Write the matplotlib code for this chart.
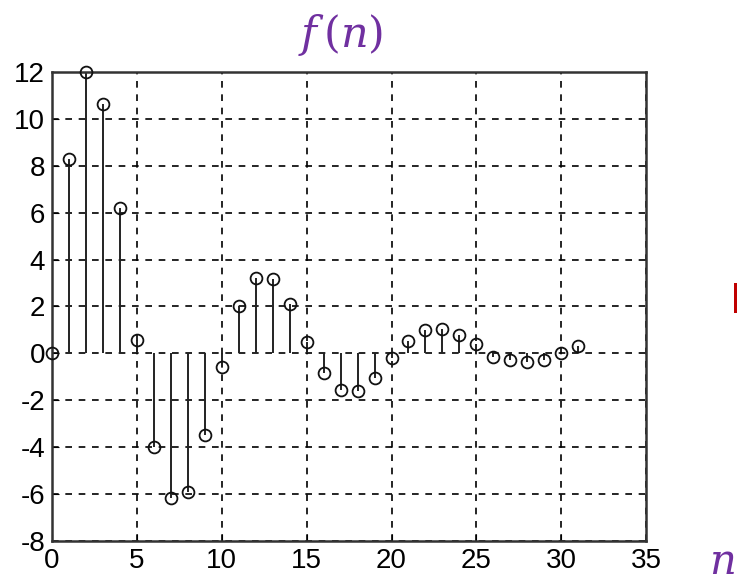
import numpy as np
import matplotlib.pyplot as plt
from matplotlib.patches import Rectangle

plt.rcParams['axes.unicode_minus'] = False

# sample index and values
n = list(range(32))
f_n = [0.0, 8.3, 12.0, 10.65, 6.2, 0.55, -4.0, -6.15, -5.9, -3.5,
       -0.6, 2.0, 3.2, 3.15, 2.1, 0.5, -0.85, -1.55, -1.6, -1.05,
       -0.18, 0.52, 1.0, 1.05, 0.8, 0.38, -0.15, -0.3, -0.37, -0.27,
       0.0, 0.3]

x_ticks = [0, 5, 10, 15, 20, 25, 30, 35]
y_ticks = [-8, -6, -4, -2, 0, 2, 4, 6, 8, 10, 12]

purple = '#7030A0'

fig = plt.figure(figsize=(7.38, 5.82), dpi=100)
ax = fig.add_axes([0.0705, 0.0705, 0.805, 0.806])

markerline, stemlines, baseline = ax.stem(n, f_n, linefmt='k-', markerfmt='o', basefmt=' ')
markerline.set_markerfacecolor('none')
markerline.set_markeredgecolor('#111111')
markerline.set_markersize(8.5)
markerline.set_markeredgewidth(1.3)
markerline.set_clip_on(False)
markerline.set_zorder(4)
stemlines.set_linewidth(1.4)
stemlines.set_color('#222222')

ax.set_xlim(0, 35)
ax.set_ylim(-8, 12)
ax.set_xticks(x_ticks)
ax.set_yticks(y_ticks)
ax.grid(True, linestyle=(0, (4, 4)), color='black', linewidth=1.2)
ax.set_axisbelow(True)
ax.tick_params(direction='in', labelsize=20, length=5, pad=5)
for lab in ax.get_xticklabels() + ax.get_yticklabels():
    lab.set_fontfamily('Liberation Sans')
for s in ax.spines.values():
    s.set_linewidth(1.8)
    s.set_color('#333333')

fig.text(0.462, 0.94, '$f\\,(n)$', color=purple, fontsize=31,
         ha='center', va='center', math_fontfamily='dejavuserif')
fig.text(0.978, 0.035, '$n$', color=purple, fontsize=30,
         ha='center', va='center', math_fontfamily='dejavuserif')

# small red mark at the right edge
fig.patches.append(Rectangle((0.9945, 0.462), 0.004, 0.052, transform=fig.transFigure,
                             facecolor='#C00000', edgecolor='none'))

fig.savefig('out.png', dpi=100)
